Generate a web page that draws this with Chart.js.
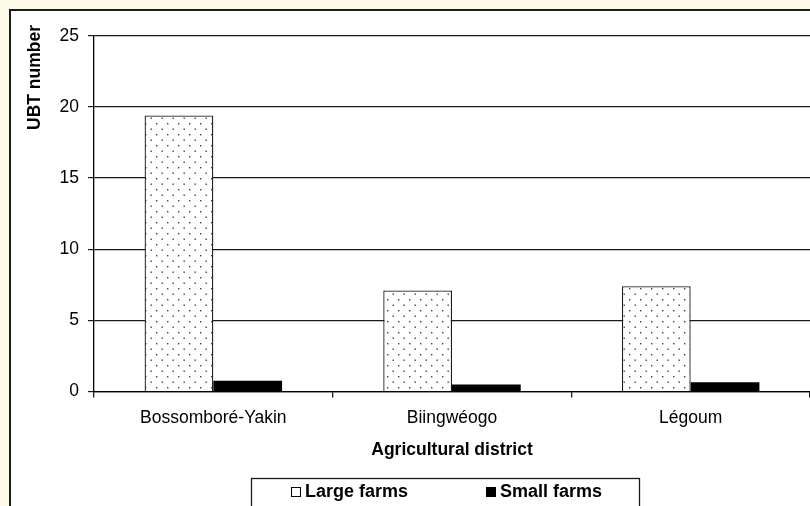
<!DOCTYPE html>
<html>
<head>
<meta charset="utf-8">
<script src="https://cdn.jsdelivr.net/npm/chart.js@4/dist/chart.umd.min.js"></script>
<style>
  html, body { margin: 0; padding: 0; width: 810px; height: 506px; overflow: hidden; background: #fdfae9; }
  #frame { position: absolute; left: 9px; top: 9px; width: 820px; height: 520px;
           border-left: 2px solid #1c1c1c; border-top: 2px solid #1c1c1c; background: #ffffff; }
  #chart { position: absolute; left: 11px; top: 11px; }
</style>
</head>
<body>
<div id="frame"></div>
<canvas id="chart" width="799" height="510"></canvas>
<script>
// Agricultural districts and average herd size (UBT) per farm type
const districts = ['Bossomboré-Yakin', 'Biingwéogo', 'Légoum'];
const largeFarms = [19.4, 7.1, 7.4];
const smallFarms = [0.75, 0.5, 0.65];
const seriesNames = ['Large farms', 'Small farms'];
const yTicks = [0, 5, 10, 15, 20, 25];
const yTitle = 'UBT number';
const xTitle = 'Agricultural district';

const FONT = 'Arial, "Liberation Sans", sans-serif';

// dotted fill for the large-farm bars
function dotPattern() {
  const c = document.createElement('canvas');
  c.width = 11; c.height = 11;
  const g = c.getContext('2d');
  g.fillStyle = '#ffffff';
  g.fillRect(0, 0, 11, 11);
  g.fillStyle = '#404040';
  g.fillRect(2, 2, 1.4, 1.4);
  g.fillRect(7.5, 7.5, 1.4, 1.4);
  return document.getElementById('chart').getContext('2d').createPattern(c, 'repeat');
}

// rotated y-axis title drawn from the top of the plot
const yTitlePlugin = {
  id: 'yTitle',
  afterDraw(chart) {
    const ctx = chart.ctx;
    ctx.save();
    ctx.translate(24, 14);
    ctx.rotate(-Math.PI / 2);
    ctx.font = 'bold 17.5px ' + FONT;
    ctx.fillStyle = '#000';
    ctx.textAlign = 'right';
    ctx.textBaseline = 'middle';
    ctx.fillText(yTitle, 0, 0);
    ctx.restore();
  }
};

// boxed legend under the axis title
const boxLegend = {
  id: 'boxLegend',
  afterDraw(chart) {
    const ctx = chart.ctx;
    const left = 240.5, right = 628.5, top = 467.5, cy = 481;
    ctx.save();
    ctx.strokeStyle = '#1a1a1a';
    ctx.lineWidth = 1.3;
    ctx.strokeRect(left, top, right - left, 80);
    ctx.font = 'bold 18px ' + FONT;
    ctx.textBaseline = 'middle';
    ctx.textAlign = 'left';
    const items = [
      { x: 280, ds: chart.data.datasets[0], hollow: true },
      { x: 475, ds: chart.data.datasets[1], hollow: false }
    ];
    items.forEach(it => {
      if (it.hollow) {
        ctx.fillStyle = '#fff';
        ctx.fillRect(it.x, cy - 4.5, 9, 9);
        ctx.strokeStyle = '#000';
        ctx.lineWidth = 1;
        ctx.strokeRect(it.x + 0.5, cy - 4.5, 9, 9);
      } else {
        ctx.fillStyle = '#000';
        ctx.fillRect(it.x, cy - 5, 10, 10);
      }
      ctx.fillStyle = '#000';
      ctx.fillText(it.ds.label, it.x + 14, cy);
    });
    ctx.restore();
  }
};

new Chart(document.getElementById('chart'), {
  type: 'bar',
  data: {
    labels: districts,
    datasets: [
      { label: seriesNames[0], data: largeFarms, backgroundColor: dotPattern(),
        borderColor: '#1a1a1a', borderWidth: 1.3 },
      { label: seriesNames[1], data: smallFarms, backgroundColor: '#000000',
        borderColor: '#000000', borderWidth: 0 }
    ]
  },
  options: {
    responsive: false,
    animation: false,
    devicePixelRatio: 1,
    layout: { padding: { top: 24.7, right: 0, bottom: 60.5, left: 0 } },
    datasets: { bar: { categoryPercentage: 0.576, barPercentage: 1.0 } },
    plugins: { legend: { display: false }, tooltip: { enabled: false } },
    scales: {
      x: {
        grid: { drawOnChartArea: false, drawTicks: true, tickLength: 6, color: '#1a1a1a', lineWidth: 1.3 },
        border: { display: true, color: '#000', width: 1.3 },
        ticks: { color: '#000', padding: 10.5, font: { family: FONT, size: 17.5 } },
        title: { display: true, text: xTitle, color: '#000', padding: { top: 0, bottom: 0 },
                 font: { family: FONT, size: 17.5, weight: 'bold' } }
      },
      y: {
        min: 0, max: 25,
        afterBuildTicks(scale) { scale.ticks = yTicks.map(v => ({ value: v })); },
        afterFit(scale) { scale.width = 83; },
        grid: { color: '#1a1a1a', lineWidth: 1.2, tickLength: 6 },
        border: { display: true, color: '#000', width: 1.3 },
        ticks: { color: '#000', padding: 9, font: { family: FONT, size: 17.5 } }
      }
    }
  },
  plugins: [yTitlePlugin, boxLegend]
});
</script>
</body>
</html>
